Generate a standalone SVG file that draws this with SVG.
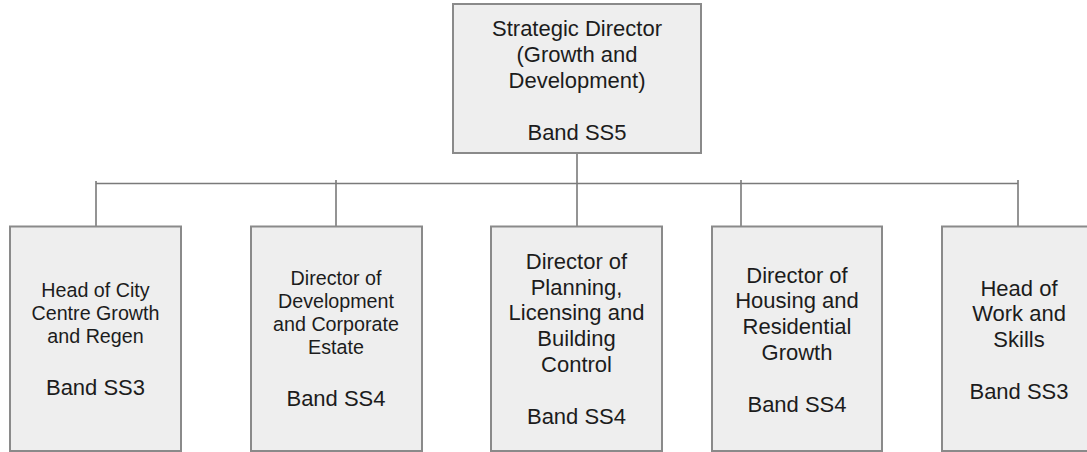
<svg xmlns="http://www.w3.org/2000/svg" width="1087" height="452" viewBox="0 0 1087 452">
<style>
.box{fill:#eeeeee;stroke:#8a8a8a;stroke-width:2}
.t{font-family:"Liberation Sans",Arial,sans-serif;font-size:22px;fill:#1c1c1c;text-anchor:middle}
.s{font-size:19.7px}
.c{stroke:#7a7a7a;stroke-width:1.6;fill:none}
</style>
<rect width="1087" height="452" fill="#ffffff"/>
<g id="connectors">
<path class="c" d="M577 153 V226 M96 183.5 H1018 M96 181 V226 M336 180 V226 M741 180 V226 M1018 180 V226"/>
</g>
<g id="strategic-director">
<rect class="box" x="453" y="4" width="248" height="149"/>
<text class="t" x="577" y="35.5">Strategic Director</text>
<text class="t" x="577" y="61.5">(Growth and</text>
<text class="t" x="577" y="87.5">Development)</text>
<text class="t" x="577" y="139.5">Band SS5</text>
</g>
<g id="head-city-centre">
<rect class="box" x="10" y="226.5" width="171" height="224.5"/>
<text class="t s" x="95.5" y="297">Head of City</text>
<text class="t s" x="95.5" y="320">Centre Growth</text>
<text class="t s" x="95.5" y="343">and Regen</text>
<text class="t" x="95.5" y="394.5">Band SS3</text>
</g>
<g id="director-development">
<rect class="box" x="251" y="226.5" width="171" height="224.5"/>
<text class="t s" x="336" y="285">Director of</text>
<text class="t s" x="336" y="308">Development</text>
<text class="t s" x="336" y="331">and Corporate</text>
<text class="t s" x="336" y="354">Estate</text>
<text class="t" x="336" y="405.5">Band SS4</text>
</g>
<g id="director-planning">
<rect class="box" x="491" y="226.5" width="171" height="224.5"/>
<text class="t" x="576.5" y="269">Director of</text>
<text class="t" x="576.5" y="294.7">Planning,</text>
<text class="t" x="576.5" y="320.4">Licensing and</text>
<text class="t" x="576.5" y="346.1">Building</text>
<text class="t" x="576.5" y="371.8">Control</text>
<text class="t" x="576.5" y="423.5">Band SS4</text>
</g>
<g id="director-housing">
<rect class="box" x="712" y="226.5" width="170" height="224.5"/>
<text class="t" x="797" y="282.5">Director of</text>
<text class="t" x="797" y="308.2">Housing and</text>
<text class="t" x="797" y="333.9">Residential</text>
<text class="t" x="797" y="359.6">Growth</text>
<text class="t" x="797" y="411.5">Band SS4</text>
</g>
<g id="head-work-skills">
<rect class="box" x="942" y="226.5" width="154" height="224.5"/>
<text class="t" x="1019" y="295.5">Head of</text>
<text class="t" x="1019" y="321.2">Work and</text>
<text class="t" x="1019" y="346.9">Skills</text>
<text class="t" x="1019" y="398.5">Band SS3</text>
</g>
</svg>
